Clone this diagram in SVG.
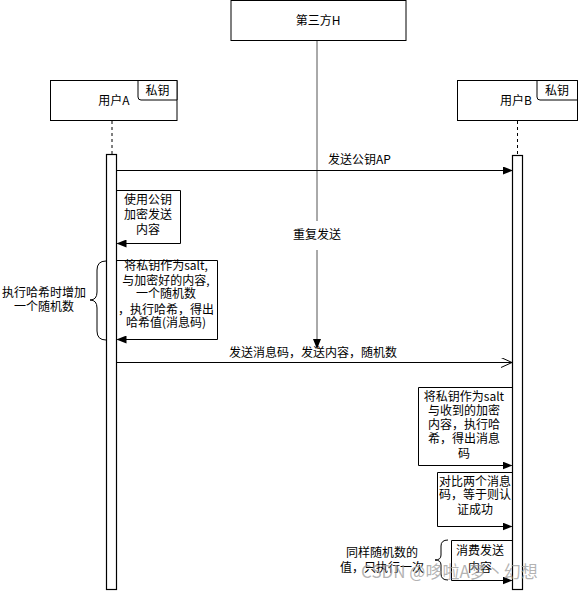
<svg xmlns="http://www.w3.org/2000/svg" width="578" height="591" viewBox="0 0 578 591">
<style>
text{font-family:"Noto Sans CJK SC","Liberation Sans",sans-serif;font-size:12px;fill:#000;}
.c{text-anchor:middle;}
.box{fill:#fff;stroke:#000;stroke-width:1;}
.ln{fill:none;stroke:#000;stroke-width:1;}
.dash{fill:none;stroke:#000;stroke-width:1;stroke-dasharray:3,3;}
.act{fill:#fff;stroke:#000;stroke-width:1.2;}
.wm{font-size:17px;fill:#9a9a9a;fill-opacity:0.75;}
</style>
<defs>
<marker id="fa" markerWidth="10" markerHeight="8" refX="9" refY="4" orient="auto" markerUnits="userSpaceOnUse"><path d="M0,0 L10,4 L0,8 Z" fill="#000"/></marker>
<marker id="oa" markerWidth="12" markerHeight="10" refX="11" refY="5" orient="auto" markerUnits="userSpaceOnUse"><path d="M0,0 L11,5 L0,10" fill="none" stroke="#000" stroke-width="1"/></marker>
</defs>

<g id="nodeH">
<rect class="box" x="231" y="0.5" width="175" height="40"/>
<text class="c" x="318" y="25">第三方H</text>
</g>
<g id="nodeA">
<rect class="box" x="50.5" y="80.5" width="126.5" height="40"/>
<path class="box" d="M138,80.5 H177 V100 H141 Q138,100 138,97 Z"/>
<text class="c" x="157.5" y="95">私钥</text>
<text class="c" x="114" y="105">用户A</text>
</g>
<g id="nodeB">
<rect class="box" x="457.5" y="80.5" width="120" height="40"/>
<path class="box" d="M537,80.5 H577.5 V100 H540 Q537,100 537,97 Z"/>
<text class="c" x="557" y="95">私钥</text>
<text class="c" x="516" y="105">用户B</text>
</g>

<g id="lifelines">
<line class="dash" x1="112" y1="121" x2="112" y2="154"/>
<line class="dash" x1="517.5" y1="121" x2="517.5" y2="155"/>
</g>
<g id="actA"><rect class="act" x="106.5" y="154.5" width="10" height="435"/></g>
<g id="actB"><rect class="act" x="512.5" y="155.5" width="10" height="434"/></g>

<g id="connectors">
<line x1="317" y1="41" x2="317" y2="221" stroke="#555" stroke-width="1"/>
<line x1="317" y1="250" x2="317" y2="348" stroke="#555" stroke-width="1" marker-end="url(#fa)"/>
<line class="ln" x1="117" y1="170.5" x2="512" y2="170.5" marker-end="url(#fa)"/>
<path class="ln" d="M117,190.5 H180.5 V243.5 H117.5" marker-end="url(#fa)"/>
<path class="ln" d="M117,260.5 H217.5 V339.5 H117.5" marker-end="url(#fa)"/>
<line class="ln" x1="117" y1="362.5" x2="512" y2="362.5" marker-end="url(#oa)"/>
<path class="ln" d="M512,387.5 H418.5 V465.5 H511.5" marker-end="url(#fa)"/>
<path class="ln" d="M512,472.5 H437.5 V526.5 H511.5" marker-end="url(#fa)"/>
<path class="ln" d="M512,540.5 H451.5 V580.5 H511.5" marker-end="url(#fa)"/>
<path class="ln" d="M106,261 Q97,261 97,270 V292 Q97,300 90,300 Q97,300 97,308 V331 Q97,340 106,340"/>
<path class="ln" d="M448,540 Q441,540 441,546 V555 Q441,560 435,560 Q441,560 441,565 V574 Q441,580 448,580"/>
</g>

<g id="labels">
<text x="328" y="164">发送公钥AP</text>
<text class="c" x="317" y="239">重复发送</text>
<text class="c" x="313" y="357">发送消息码，发送内容，随机数</text>
<text class="c" x="148" y="204">使用公钥</text>
<text class="c" x="148" y="219">加密发送</text>
<text class="c" x="148" y="234">内容</text>
<text class="c" x="166" y="270">将私钥作为salt,</text>
<text class="c" x="166" y="285">与加密好的内容,</text>
<text class="c" x="166" y="298">一个随机数</text>
<text class="c" x="166" y="314">，执行哈希，得出</text>
<text class="c" x="166" y="327">哈希值(消息码)</text>
<text class="c" x="44" y="297">执行哈希时增加</text>
<text class="c" x="44" y="311">一个随机数</text>
<text class="c" x="464" y="401">将私钥作为salt</text>
<text class="c" x="464" y="415">与收到的加密</text>
<text class="c" x="464" y="429">内容，执行哈</text>
<text class="c" x="464" y="443">希，得出消息</text>
<text class="c" x="464" y="458">码</text>
<text class="c" x="475" y="486">对比两个消息</text>
<text class="c" x="475" y="499">码，等于则认</text>
<text class="c" x="475" y="514">证成功</text>
<text class="c" x="480" y="555">消费发送</text>
<text class="c" x="480" y="572">内容</text>
<text class="c" x="382" y="557">同样随机数的</text>
<text class="c" x="382" y="572">值，只执行一次</text>
</g>
<text class="wm" x="361" y="578">CSDN @哆啦A梦丶幻想</text>
</svg>
